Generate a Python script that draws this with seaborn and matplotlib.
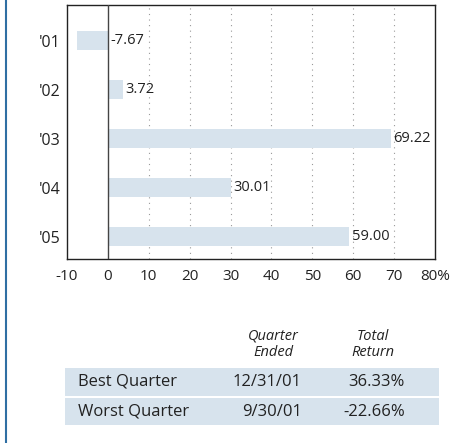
import matplotlib
matplotlib.use("Agg")
import matplotlib.pyplot as plt
import seaborn as sns
import pandas as pd
from matplotlib.patches import Rectangle
from matplotlib.lines import Line2D

years = ["'01", "'02", "'03", "'04", "'05"]
returns = [-7.67, 3.72, 69.22, 30.01, 59.00]
xticks = [-10, 0, 10, 20, 30, 40, 50, 60, 70, 80]
xtick_labels = ["-10", "0", "10", "20", "30", "40", "50", "60", "70", "80%"]

table_header = ["Quarter\nEnded", "Total\nReturn"]
row_labels = ["Best Quarter", "Worst Quarter"]
quarter_ended = ["12/31/01", "9/30/01"]
total_return = ["36.33%", "-22.66%"]

sns.set_theme(style="white")
plt.rcParams['font.family'] = ['Open Sans', 'DejaVu Sans']

W, H = 454, 443
fig = plt.figure(figsize=(W / 100, H / 100), dpi=100)
ax = fig.add_axes([67 / W, 1 - 259 / H, (435 - 67) / W, (259 - 5) / H])

df = pd.DataFrame({"year": years, "ret": returns})
bar_color = "#d7e3ed"
sns.barplot(data=df, x="ret", y="year", orient="h", color=bar_color,
            width=0.39, ax=ax, saturation=1, edgecolor="none")

ax.set_xlim(-10, 80)
ax.set_ylim(4.45, -0.73)
ax.set_xticks(xticks)
ax.set_xticklabels(xtick_labels, fontsize=11, color="#222222")
ax.tick_params(axis="x", direction="out", length=4, width=0.8, color="#222222", pad=3)
ax.tick_params(axis="y", length=0, labelsize=11.5, pad=5, labelcolor="#222222")
ax.set_xlabel("")
ax.set_ylabel("")

for x in xticks[2:-1]:
    ax.axvline(x, color="#999999", linestyle=(0, (1, 4)), linewidth=0.8, zorder=0)
ax.axvline(0, color="#444444", linewidth=1.0, zorder=3)

for s in ax.spines.values():
    s.set_color("#222222")
    s.set_linewidth(1.0)

for i, v in enumerate(returns):
    ax.text(max(v, 0) + 0.6, i, f"{v:.2f}", va="center", ha="left",
            fontsize=10.5, color="#222222")

# left blue rule
fig.add_artist(Line2D([6 / W, 6 / W], [0, 1], color="#2f6fa3", linewidth=1.5))

# table
def fx(px):
    return px / W

def fy(py):
    return 1 - py / H

for xc, head in zip([273, 373], table_header):
    l1, l2 = head.split("\n")
    fig.text(fx(xc), fy(336), l1, ha="center", va="center",
             fontsize=10.5, style="italic", color="#222222")
    fig.text(fx(xc), fy(353), l2, ha="center", va="center",
             fontsize=10.5, style="italic", color="#222222")

rows_y = [(368, 396), (398, 425)]
for (y0, y1), lab, q, r in zip(rows_y, row_labels, quarter_ended, total_return):
    fig.add_artist(Rectangle((fx(65), fy(y1)), fx(439) - fx(65), fy(y0) - fy(y1),
                             transform=fig.transFigure, facecolor=bar_color,
                             edgecolor="none"))
    yc = fy((y0 + y1) / 2)
    fig.text(fx(78), yc, lab, ha="left", va="center", fontsize=12, color="#222222")
    fig.text(fx(302), yc, q, ha="right", va="center", fontsize=12, color="#222222")
    fig.text(fx(405), yc, r, ha="right", va="center", fontsize=12, color="#222222")

fig.savefig("out.png", dpi=100)
